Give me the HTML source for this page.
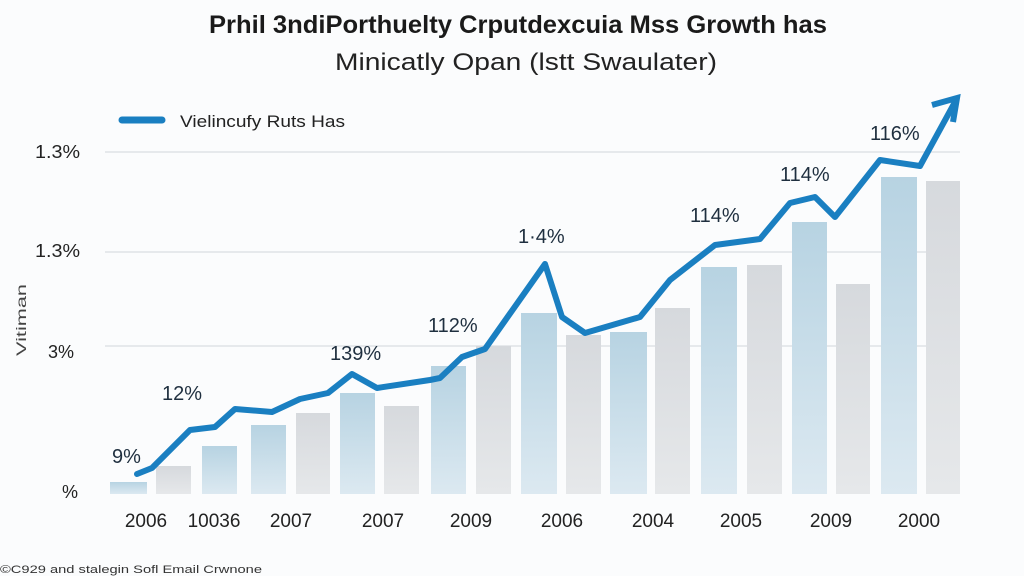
<!DOCTYPE html>
<html><head><meta charset="utf-8"><style>
html,body{margin:0;padding:0;background:#fff;}
svg{display:block;font-family:"Liberation Sans",sans-serif;}
</style></head><body>
<svg width="1024" height="576" viewBox="0 0 1024 576">
<defs>
<linearGradient id="bl" x1="0" y1="0" x2="0" y2="1"><stop offset="0" stop-color="#b7d3e2"/><stop offset="1" stop-color="#dce9f1"/></linearGradient>
<linearGradient id="gr" x1="0" y1="0" x2="0" y2="1"><stop offset="0" stop-color="#d6d9dd"/><stop offset="1" stop-color="#e6e8ea"/></linearGradient>
</defs>
<rect width="1024" height="576" fill="#fbfcfd"/>
<text x="518" y="33" font-size="25" font-weight="bold" text-anchor="middle" textLength="618" lengthAdjust="spacingAndGlyphs" fill="#1a1a1a">Prhil 3ndiPorthuelty Crputdexcuia Mss Growth has</text>
<text x="526" y="70" font-size="24" text-anchor="middle" textLength="382" lengthAdjust="spacingAndGlyphs" fill="#222">Minicatly Opan (lstt Swaulater)</text>
<line x1="122" y1="120" x2="162" y2="120" stroke="#1a7fc1" stroke-width="7" stroke-linecap="round"/>
<text x="180" y="127" font-size="17" textLength="165" lengthAdjust="spacingAndGlyphs" fill="#222">Vielincufy Ruts Has</text>
<g stroke="#e6e9ec" stroke-width="2">
<line x1="105" y1="152" x2="960" y2="152"/><line x1="105" y1="252" x2="960" y2="252"/><line x1="105" y1="346" x2="960" y2="346"/>
</g>
<g font-size="18" fill="#222">
<text x="35" y="158" textLength="45" lengthAdjust="spacingAndGlyphs">1.3%</text><text x="35" y="257" textLength="45" lengthAdjust="spacingAndGlyphs">1.3%</text><text x="48" y="358">3%</text><text x="62" y="498">%</text>
<text x="0" y="0" font-size="14" fill="#444" transform="translate(26,356) rotate(-90)" textLength="72" lengthAdjust="spacingAndGlyphs">Vitiman</text>
</g>
<g>
<rect x="110" y="482" width="37" height="12" fill="url(#bl)"/>
<rect x="156" y="466" width="35" height="28" fill="url(#gr)"/>
<rect x="202" y="446" width="35" height="48" fill="url(#bl)"/>
<rect x="251" y="425" width="35" height="69" fill="url(#bl)"/>
<rect x="296" y="413" width="34" height="81" fill="url(#gr)"/>
<rect x="340" y="393" width="35" height="101" fill="url(#bl)"/>
<rect x="384" y="406" width="35" height="88" fill="url(#gr)"/>
<rect x="431" y="366" width="35" height="128" fill="url(#bl)"/>
<rect x="476" y="346" width="35" height="148" fill="url(#gr)"/>
<rect x="521" y="313" width="36" height="181" fill="url(#bl)"/>
<rect x="566" y="335" width="35" height="159" fill="url(#gr)"/>
<rect x="610" y="332" width="37" height="162" fill="url(#bl)"/>
<rect x="655" y="308" width="35" height="186" fill="url(#gr)"/>
<rect x="701" y="267" width="36" height="227" fill="url(#bl)"/>
<rect x="747" y="265" width="35" height="229" fill="url(#gr)"/>
<rect x="792" y="222" width="35" height="272" fill="url(#bl)"/>
<rect x="836" y="284" width="34" height="210" fill="url(#gr)"/>
<rect x="881" y="177" width="36" height="317" fill="url(#bl)"/>
<rect x="926" y="181" width="34" height="313" fill="url(#gr)"/>
</g>
<polyline fill="none" stroke="#1a7fc1" stroke-width="6" stroke-linejoin="round" stroke-linecap="round" points="137,474 152,468 190,430 215,427 235,409 272,412 300,399 328,393 352,374 377,388 430,380 440,378 462,357 485,349 545,264 562,317 585,333 640,317 670,280 715,245 760,239 790,203 815,197 835,217 880,160 920,166 955,102"/>
<polyline fill="none" stroke="#1a7fc1" stroke-width="6" stroke-linejoin="miter" points="932,105 957,98 953,122"/>
<g font-size="20" fill="#1f2f3f">
<text x="112" y="463">9%</text><text x="162" y="400">12%</text><text x="330" y="360">139%</text>
<text x="428" y="332">112%</text><text x="518" y="243">1·4%</text><text x="690" y="222">114%</text>
<text x="780" y="181">114%</text><text x="870" y="140">116%</text>
</g>
<g font-size="19" fill="#222" text-anchor="middle">
<text x="146" y="527">2006</text><text x="214" y="527">10036</text><text x="291" y="527">2007</text>
<text x="383" y="527">2007</text><text x="471" y="527">2009</text><text x="562" y="527">2006</text>
<text x="653" y="527">2004</text><text x="741" y="527">2005</text><text x="831" y="527">2009</text>
<text x="919" y="527">2000</text>
</g>
<text x="0" y="573" font-size="11" fill="#333" textLength="262" lengthAdjust="spacingAndGlyphs">©C929 and stalegin Sofl Email Crwnone</text>
</svg>
</body></html>
